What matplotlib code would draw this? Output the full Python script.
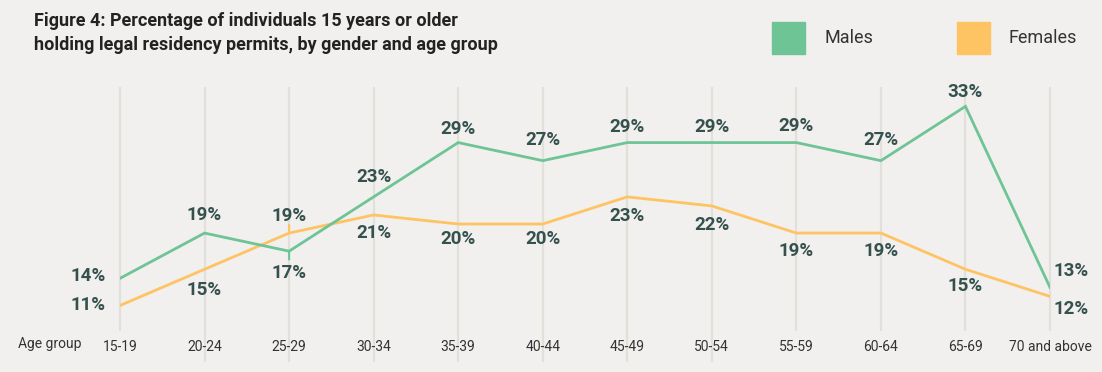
import matplotlib
matplotlib.use("Agg")
import matplotlib.pyplot as plt
from matplotlib.patches import Rectangle
import matplotlib.transforms as mtransforms

plt.rcParams['font.family'] = ['Roboto', 'DejaVu Sans']

categories = ["15-19", "20-24", "25-29", "30-34", "35-39", "40-44",
              "45-49", "50-54", "55-59", "60-64", "65-69", "70 and above"]
males = [14, 19, 17, 23, 29, 27, 29, 29, 29, 27, 33, 13]
females = [11, 15, 19, 21, 20, 20, 23, 22, 19, 19, 15, 12]

title = "Figure 4: Percentage of individuals 15 years or older\nholding legal residency permits, by gender and age group"

GREEN = "#6fc496"
YELLOW = "#fec363"
BG = "#f1f0ee"
GRID = "#e2e0da"
LABEL = "#35514e"
TXT = "#333333"

# label offsets (points) - styling
m_off = [(-23, 2), (0, 13), (0, -16), (0, 14), (0, 10), (0, 15),
         (0, 11), (0, 11), (0, 12), (0, 15), (0, 10), (15, 12)]
f_off = [(-23, 0), (0, -15), (0, 12), (0, -13), (0, -11), (0, -11),
         (0, -14), (0, -14), (0, -13), (0, -13), (0, -12), (15, -9)]

W, H = 1102, 372
fig = plt.figure(figsize=(W / 100, H / 100), dpi=100, facecolor=BG)
ax = fig.add_axes([120 / W, 1 - 330 / H, (1050 - 120) / W, (330 - 88) / H])
ax.set_facecolor(BG)
for s in ax.spines.values():
    s.set_visible(False)

x = list(range(len(categories)))
ax.set_xlim(0, len(categories) - 1)
ax.set_ylim(8.29, 35.03)
ax.set_yticks([])

trans = mtransforms.blended_transform_factory(ax.transData, ax.transAxes)
for i in x:
    lower = -0.13 if 1 <= i <= 7 else 0.0
    ax.plot([i, i], [lower, 1.0], transform=trans, color=GRID, lw=1.6,
            clip_on=False, zorder=0)

ax.plot(x, males, color=GREEN, lw=2.0, zorder=3, solid_joinstyle='miter')
ax.plot(x, females, color=YELLOW, lw=2.0, zorder=2, solid_joinstyle='miter')

for i, v in enumerate(males):
    ax.annotate(f"{v}%", (i, v), xytext=m_off[i], textcoords="offset points",
                ha="center", va="center", fontsize=13.5, fontweight="bold",
                color=LABEL, annotation_clip=False, zorder=5)
for i, v in enumerate(females):
    ax.annotate(f"{v}%", (i, v), xytext=f_off[i], textcoords="offset points",
                ha="center", va="center", fontsize=13.5, fontweight="bold",
                color=LABEL, annotation_clip=False, zorder=5)

# small leader ticks at 25-29
ax.annotate("", (2, females[2]), xytext=(0, 6), textcoords="offset points",
            arrowprops=dict(arrowstyle="-", color=YELLOW, lw=1.5,
                            shrinkA=0, shrinkB=0))
ax.annotate("", (2, males[2]), xytext=(0, -6), textcoords="offset points",
            arrowprops=dict(arrowstyle="-", color=GREEN, lw=1.5,
                            shrinkA=0, shrinkB=0))

ax.set_xticks(x)
ax.set_xticklabels(categories, fontsize=10, color=TXT)
ax.tick_params(axis="x", length=0, pad=7)

fig.text(18 / W, 1 - 344 / H, "Age group", fontsize=10, color=TXT,
         ha="left", va="center")

fig.text(34 / W, 1 - 12 / H, title, fontsize=13, fontweight="bold",
         color="#222222", ha="left", va="top", linespacing=1.45)

# legend
fig.patches.append(Rectangle((772 / W, 1 - 54 / H), 33 / W, 32 / H,
                             transform=fig.transFigure, color=GREEN))
fig.text(824 / W, 1 - 38 / H, "Males", fontsize=13, color=TXT,
         ha="left", va="center")
fig.patches.append(Rectangle((957 / W, 1 - 54 / H), 33 / W, 32 / H,
                             transform=fig.transFigure, color=YELLOW))
fig.text(1008 / W, 1 - 38 / H, "Females", fontsize=13, color=TXT,
         ha="left", va="center")

fig.savefig("out.png", dpi=100, facecolor=BG)
